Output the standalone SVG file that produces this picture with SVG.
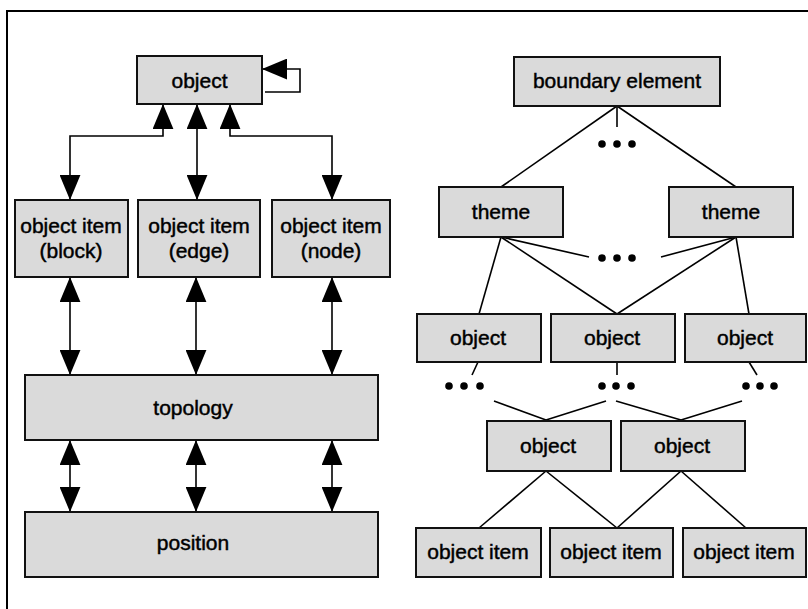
<svg xmlns="http://www.w3.org/2000/svg" width="808" height="609" viewBox="0 0 808 609">
  <defs>
    <marker id="arrow" markerUnits="userSpaceOnUse" markerWidth="25" markerHeight="21" viewBox="0 0 24 20" refX="24" refY="10" orient="auto-start-reverse">
      <path d="M0,0 L24,10 L0,20 Z" fill="#000"/>
    </marker>
  </defs>
  <style>
    .box { fill: #dadada; stroke: #111; stroke-width: 2; }
    .lbl { font-family: "Liberation Sans", Arial, sans-serif; font-size: 21px; fill: #000; stroke: #000; stroke-width: 0.45; text-anchor: middle; }
    .link { fill: none; stroke: #000; stroke-width: 1.6; }
    .dual { marker-start: url(#arrow); marker-end: url(#arrow); }
    .dot { fill: #000; }
  </style>

  <rect width="808" height="609" fill="#fff"/>

  <!-- frame -->
  <polyline points="7,609 7,11 808,11" fill="none" stroke="#000" stroke-width="2"/>

  <!-- connectors -->
  <g id="connectors">
    <!-- left: object / object items / topology / position -->
    <polyline class="link dual" points="163,104 163,136 70,136 70,200"/>
    <line class="link dual" x1="197" y1="104" x2="197" y2="200"/>
    <polyline class="link dual" points="230,104 230,136 332,136 332,200"/>
    <polyline class="link" marker-end="url(#arrow)" points="265,92 300,92 300,69 262,69"/>
    <line class="link dual" x1="70" y1="277" x2="70" y2="375"/>
    <line class="link dual" x1="196" y1="277" x2="196" y2="375"/>
    <line class="link dual" x1="332" y1="277" x2="332" y2="375"/>
    <line class="link dual" x1="70" y1="440" x2="70" y2="512"/>
    <line class="link dual" x1="196" y1="440" x2="196" y2="512"/>
    <line class="link dual" x1="332" y1="440" x2="332" y2="512"/>

    <!-- right: hierarchy -->
    <line class="link" x1="617" y1="106" x2="617" y2="127"/>
    <line class="link" x1="617" y1="106" x2="501" y2="187"/>
    <line class="link" x1="617" y1="106" x2="736" y2="187"/>
    <line class="link" x1="501" y1="237" x2="479" y2="314"/>
    <line class="link" x1="501" y1="237" x2="589" y2="257"/>
    <line class="link" x1="501" y1="237" x2="617" y2="314"/>
    <line class="link" x1="736" y1="237" x2="661" y2="257"/>
    <line class="link" x1="736" y1="237" x2="617" y2="314"/>
    <line class="link" x1="736" y1="237" x2="749" y2="314"/>
    <line class="link" x1="478" y1="362" x2="472" y2="375"/>
    <line class="link" x1="617" y1="362" x2="617" y2="375"/>
    <line class="link" x1="749" y1="362" x2="757" y2="375"/>
    <line class="link" x1="494" y1="401" x2="546" y2="420"/>
    <line class="link" x1="606" y1="401" x2="546" y2="420"/>
    <line class="link" x1="616" y1="401" x2="681" y2="420"/>
    <line class="link" x1="742" y1="401" x2="681" y2="420"/>
    <line class="link" x1="546" y1="471" x2="479" y2="528"/>
    <line class="link" x1="546" y1="471" x2="617" y2="528"/>
    <line class="link" x1="681" y1="471" x2="617" y2="528"/>
    <line class="link" x1="681" y1="471" x2="746" y2="528"/>
  </g>

  <!-- ellipses -->
  <g id="ellipses">
    <circle class="dot" cx="602" cy="144" r="3.8"/><circle class="dot" cx="617" cy="144" r="3.8"/><circle class="dot" cx="632" cy="144" r="3.8"/>
    <circle class="dot" cx="602" cy="258" r="3.8"/><circle class="dot" cx="617" cy="258" r="3.8"/><circle class="dot" cx="632" cy="258" r="3.8"/>
    <circle class="dot" cx="449" cy="386" r="3.8"/><circle class="dot" cx="464" cy="386" r="3.8"/><circle class="dot" cx="480" cy="386" r="3.8"/>
    <circle class="dot" cx="602" cy="386" r="3.8"/><circle class="dot" cx="616" cy="386" r="3.8"/><circle class="dot" cx="631" cy="386" r="3.8"/>
    <circle class="dot" cx="746" cy="386" r="3.8"/><circle class="dot" cx="760" cy="386" r="3.8"/><circle class="dot" cx="774" cy="386" r="3.8"/>
  </g>

  <!-- left nodes -->
  <g id="object-top">
    <rect class="box" x="137" y="56" width="125" height="48"/>
    <text class="lbl" x="199.5" y="88">object</text>
  </g>
  <g id="item-block">
    <rect class="box" x="15" y="200" width="113" height="77"/>
    <text class="lbl" x="71" y="233">object item</text>
    <text class="lbl" x="71" y="258">(block)</text>
  </g>
  <g id="item-edge">
    <rect class="box" x="138" y="200" width="122" height="77"/>
    <text class="lbl" x="199" y="233">object item</text>
    <text class="lbl" x="199" y="258">(edge)</text>
  </g>
  <g id="item-node">
    <rect class="box" x="272" y="200" width="118" height="77"/>
    <text class="lbl" x="331" y="233">object item</text>
    <text class="lbl" x="331" y="258">(node)</text>
  </g>
  <g id="topology">
    <rect class="box" x="25" y="375" width="353" height="65"/>
    <text class="lbl" x="193" y="415">topology</text>
  </g>
  <g id="position">
    <rect class="box" x="25" y="512" width="353" height="65"/>
    <text class="lbl" x="193" y="550">position</text>
  </g>

  <!-- right nodes -->
  <g id="boundary-element">
    <rect class="box" x="514" y="57" width="206" height="49"/>
    <text class="lbl" x="617" y="88">boundary element</text>
  </g>
  <g id="theme-left">
    <rect class="box" x="439" y="187" width="124" height="50"/>
    <text class="lbl" x="501" y="219">theme</text>
  </g>
  <g id="theme-right">
    <rect class="box" x="669" y="187" width="124" height="50"/>
    <text class="lbl" x="731" y="219">theme</text>
  </g>
  <g id="object-1a">
    <rect class="box" x="417" y="314" width="124" height="48"/>
    <text class="lbl" x="478" y="345">object</text>
  </g>
  <g id="object-1b">
    <rect class="box" x="551" y="314" width="124" height="48"/>
    <text class="lbl" x="612" y="345">object</text>
  </g>
  <g id="object-1c">
    <rect class="box" x="685" y="314" width="121" height="48"/>
    <text class="lbl" x="745" y="345">object</text>
  </g>
  <g id="object-2a">
    <rect class="box" x="487" y="421" width="124" height="50"/>
    <text class="lbl" x="548" y="453">object</text>
  </g>
  <g id="object-2b">
    <rect class="box" x="621" y="421" width="124" height="50"/>
    <text class="lbl" x="682" y="453">object</text>
  </g>
  <g id="item-a">
    <rect class="box" x="416" y="528" width="125" height="49"/>
    <text class="lbl" x="478" y="559">object item</text>
  </g>
  <g id="item-b">
    <rect class="box" x="550" y="528" width="123" height="49"/>
    <text class="lbl" x="611" y="559">object item</text>
  </g>
  <g id="item-c">
    <rect class="box" x="683" y="528" width="123" height="49"/>
    <text class="lbl" x="744" y="559">object item</text>
  </g>
</svg>
